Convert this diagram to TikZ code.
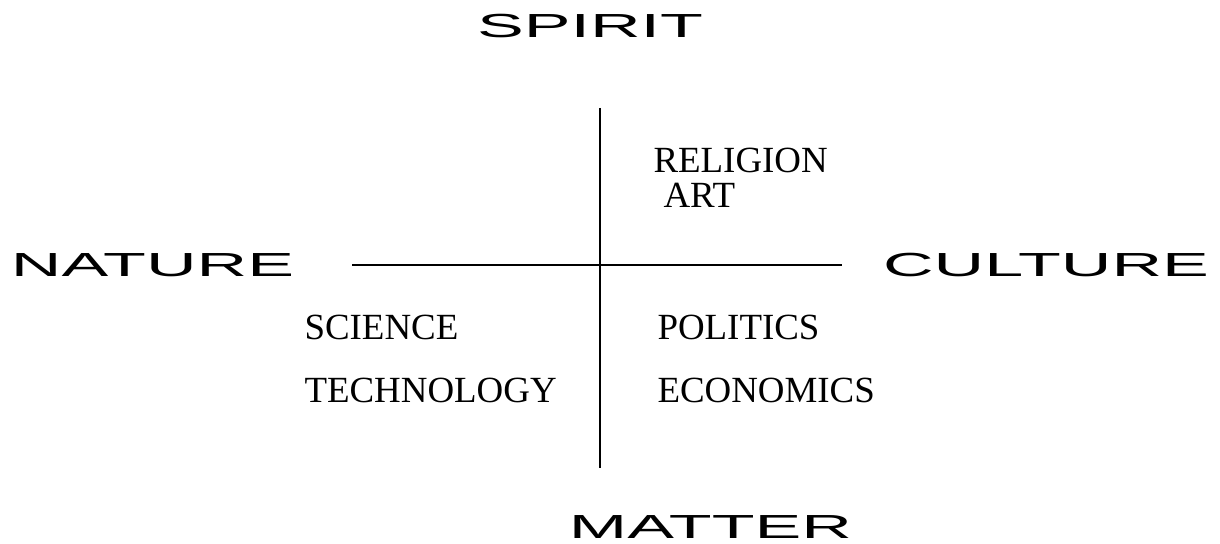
\documentclass[tikz,border=0pt]{standalone}
\usepackage{fontspec}
\setmainfont{Liberation Serif}
\newfontfamily\polefont{Liberation Sans}
\tikzset{
  pole/.style={font=\polefont\fontsize{19pt}{19pt}\selectfont,xscale=2.1,inner sep=0pt,anchor=base},
  field/.style={font=\fontsize{21pt}{21pt}\selectfont,inner sep=0pt,anchor=base west},
}
\begin{document}
\begin{tikzpicture}[x=0.2mm,y=0.2mm,line width=0.6pt]
\useasboundingbox (0,0) rectangle (1220,544);
%\draw [help lines,step=20] (0,0) grid (1220,544);
\coordinate (top) at (600,436);
\coordinate (bottom) at (600,76);
\coordinate (left) at (352,279);
\coordinate (right) at (842,279);
\draw (top) -- (bottom);
\draw (left) -- (right);
\node [pole] (spirit) at (590,506) {SPIRIT};
\node [pole] (matter) at (710.5,5) {MATTER};
\node [pole] (nature) at (152.5,267) {NATURE};
\node [pole] (culture) at (1046,267) {CULTURE};
\node [field] (religion) at (653,371) {RELIGION};
\node [field] (art) at (663,336) {ART};
\node [field] (science) at (304,204) {SCIENCE};
\node [field] (technology) at (304,141) {TECHNOLOGY};
\node [field] (politics) at (657,204) {POLITICS};
\node [field] (economics) at (657,141) {ECONOMICS};
\end{tikzpicture}
\end{document}
